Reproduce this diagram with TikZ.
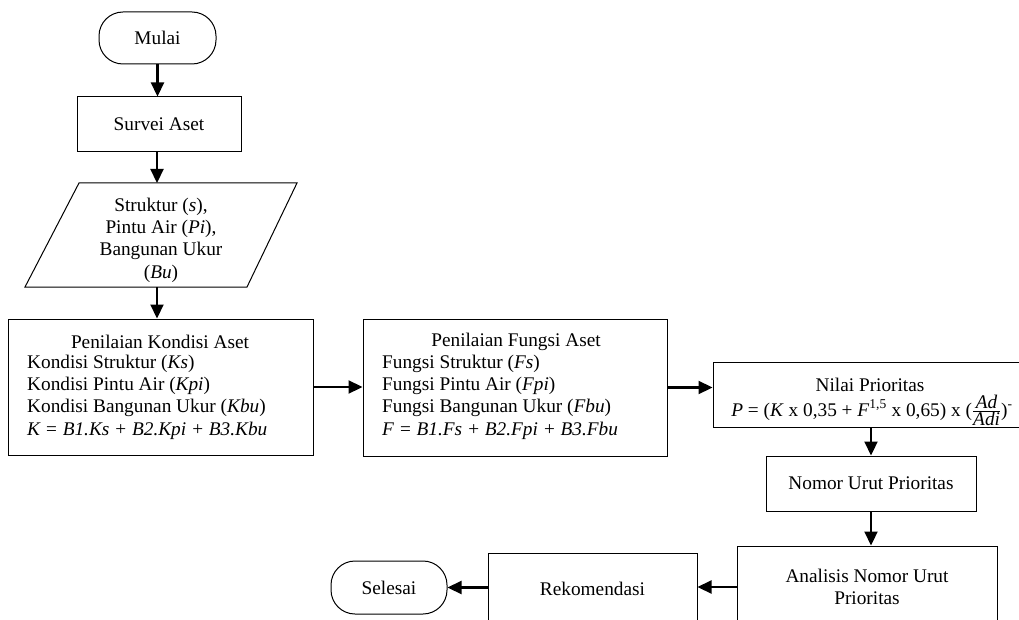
\documentclass[tikz,border=0pt]{standalone}
\usepackage{fontspec}
\setmainfont{Liberation Serif}
\usetikzlibrary{arrows.meta}
\newcommand\diafont{\fontsize{19.3pt}{22.3pt}\selectfont}
\begin{document}
\begin{tikzpicture}[x=1pt,y=-1pt,
  every node/.style={font=\diafont},
  box/.style={draw, line width=1pt, inner sep=0pt, align=center},
  term/.style={box, rounded corners=24pt},
  txt/.style={inner sep=0pt},
  flow/.style={line width=2.2pt, -{Triangle[length=14pt,width=13pt]}}]
\useasboundingbox (0,0) rectangle (1019,620);

% nodes
\node[term, minimum width=117pt, minimum height=52pt] (mulai) at (157.5,38) {Mulai};
\node[box, minimum width=164pt, minimum height=55pt] (survei) at (159,124.5) {Survei Aset};

\draw[line width=1pt] (25,287) -- (247,287) -- (297,183) -- (79,183) -- cycle;
\coordinate (parT) at (157,183);
\coordinate (parB) at (157,287);
\node[txt, align=center] (input) at (161,240) {Struktur (\textit{s}),\\Pintu Air (\textit{Pi}),\\Bangunan Ukur\\(\textit{Bu})};

\node[box, minimum width=305pt, minimum height=136pt] (kondisi) at (160.5,387) {};
\node[txt] (kondisiT) at (160,342) {Penilaian Kondisi Aset};
\node[txt, anchor=west, align=left] (kondisiL) at (27,397) {Kondisi Struktur (\textit{Ks})\\Kondisi Pintu Air (\textit{Kpi})\\Kondisi Bangunan Ukur (\textit{Kbu})\\\textit{K = B1.Ks + B2.Kpi + B3.Kbu}};

\node[box, minimum width=304pt, minimum height=137pt] (fungsi) at (515,387.5) {};
\node[txt] (fungsiT) at (516,342) {Penilaian Fungsi Aset};
\node[txt, anchor=west, align=left] (fungsiL) at (382,397) {Fungsi Struktur (\textit{Fs})\\Fungsi Pintu Air (\textit{Fpi})\\Fungsi Bangunan Ukur (\textit{Fbu})\\\textit{F = B1.Fs + B2.Fpi + B3.Fbu}};

\node[box, minimum width=317pt, minimum height=65pt] (nilai) at (871.5,394.5) {};
\node[txt] (nilaiT) at (870,385) {Nilai Prioritas};
\node[txt] (nilaiF) at (872,410) {\textit{P} = (\textit{K} x 0,35 + \textit{F}\textsuperscript{1,5} x 0,65) x ($\frac{\textit{Ad}}{\textit{Adi}}$)\textsuperscript{-}};

\node[box, minimum width=210pt, minimum height=55pt] (nomor) at (871,483.5) {Nomor Urut Prioritas};
\node[box, minimum width=260pt, minimum height=82pt] (analisis) at (867,587) {Analisis Nomor Urut\\Prioritas};
\node[box, minimum width=209pt, minimum height=72pt] (rek) at (592.5,589) {Rekomendasi};
\node[term, minimum width=116pt, minimum height=53pt] (selesai) at (389,587.5) {Selesai};

% connectors
\draw[flow] (mulai.south) -- (mulai.south |- survei.north);
\draw[flow] (survei.south -| parT) -- (parT);
\draw[flow] (parB) -- (parB |- kondisi.north);
\draw[flow] (kondisi.east) -- (kondisi.east -| fungsi.west);
\draw[flow] (fungsi.east) -- (fungsi.east -| nilai.west);
\draw[flow] (nomor.north |- nilai.south) -- (nomor.north);
\draw[flow] (nomor.south) -- (nomor.south |- analisis.north);
\draw[flow] (analisis.west) -- (analisis.west -| rek.east);
\draw[flow] (rek.west |- selesai.east) -- (selesai.east);
\end{tikzpicture}
\end{document}
